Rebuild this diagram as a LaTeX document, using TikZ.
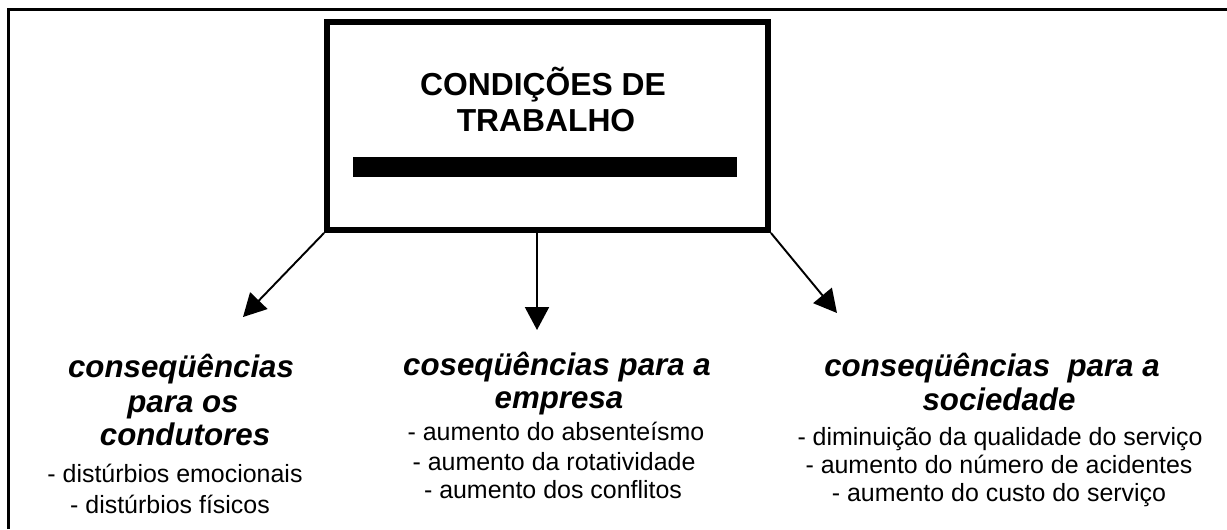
\documentclass[tikz,border=0pt]{standalone}
\usepackage{fontspec}
\setmainfont{Liberation Sans}
\usetikzlibrary{arrows.meta}

\tikzset{
    titulo/.style={font=\fontsize{18.1}{21}\selectfont\bfseries, anchor=base, inner sep=0pt},
    cabeca/.style={font=\fontsize{17.8}{19.3}\selectfont\bfseries\itshape, anchor=base, inner sep=0pt},
    item/.style={font=\fontsize{14.2}{16.2}\selectfont, anchor=base, inner sep=0pt},
    seta/.style={line width=1.1pt, -{Triangle[length=13pt, width=13.6pt]}},
}

\begin{document}
\begin{tikzpicture}[x=0.02cm, y=-0.02cm]
            \useasboundingbox (0,0) rectangle (1227,529);
            % moldura
            \draw[line width=1.6pt] (8.5,529) -- (8.5,9.5) -- (1227,9.5);
            % caixa central
            \node[draw, line width=3.4pt, minimum width=8.82cm, minimum height=4.16cm] (cond) at (547.5,126) {};
            \node[titulo] (tit1) at (543,95.0) {CONDIÇÕES DE};
            \node[titulo] (tit2) at (546,131.7) {TRABALHO};
            \fill (353,157) rectangle (737,177);
            % setas
            \coordinate (pontaE) at (243,317);
            \coordinate (topoM)  at (537,227);
            \coordinate (pontaM) at (537,330);
            \coordinate (pontaD) at (837,313);
            \draw[seta] (cond.south west) -- (pontaE);
            \draw[seta] (topoM) -- (pontaM);
            \draw[seta] (cond.south east) -- (pontaD);
            % condutores
            \foreach \lin/\xx/\yy [count=\i] in {conseqüências/181/377, para os/183/412, condutores/185/445}
                \node[cabeca] (cabE\i) at (\xx,\yy) {\lin};
            \foreach \lin/\xx/\yy [count=\i] in {- distúrbios emocionais/175/482, - distúrbios físicos/170/513}
                \node[item] (itE\i) at (\xx,\yy) {\lin};
            % empresa
            \foreach \lin/\xx/\yy [count=\i] in {coseqüências para a/557/375, empresa/559/408}
                \node[cabeca] (cabM\i) at (\xx,\yy) {\lin};
            \foreach \lin/\xx/\yy [count=\i] in {- aumento do absenteísmo/556/440, - aumento da rotatividade/554/470, - aumento dos conflitos/553/498}
                \node[item] (itM\i) at (\xx,\yy) {\lin};
            % sociedade
            \foreach \lin/\xx/\yy [count=\i] in {conseqüências\ \ para a/992/376, sociedade/999/410}
                \node[cabeca] (cabD\i) at (\xx,\yy) {\lin};
            \foreach \lin/\xx/\yy [count=\i] in {- diminuição da qualidade do serviço/1000/445, - aumento do número de acidentes/999/473, - aumento do custo do serviço/999/501}
                \node[item] (itD\i) at (\xx,\yy) {\lin};
        \end{tikzpicture}
\end{document}
